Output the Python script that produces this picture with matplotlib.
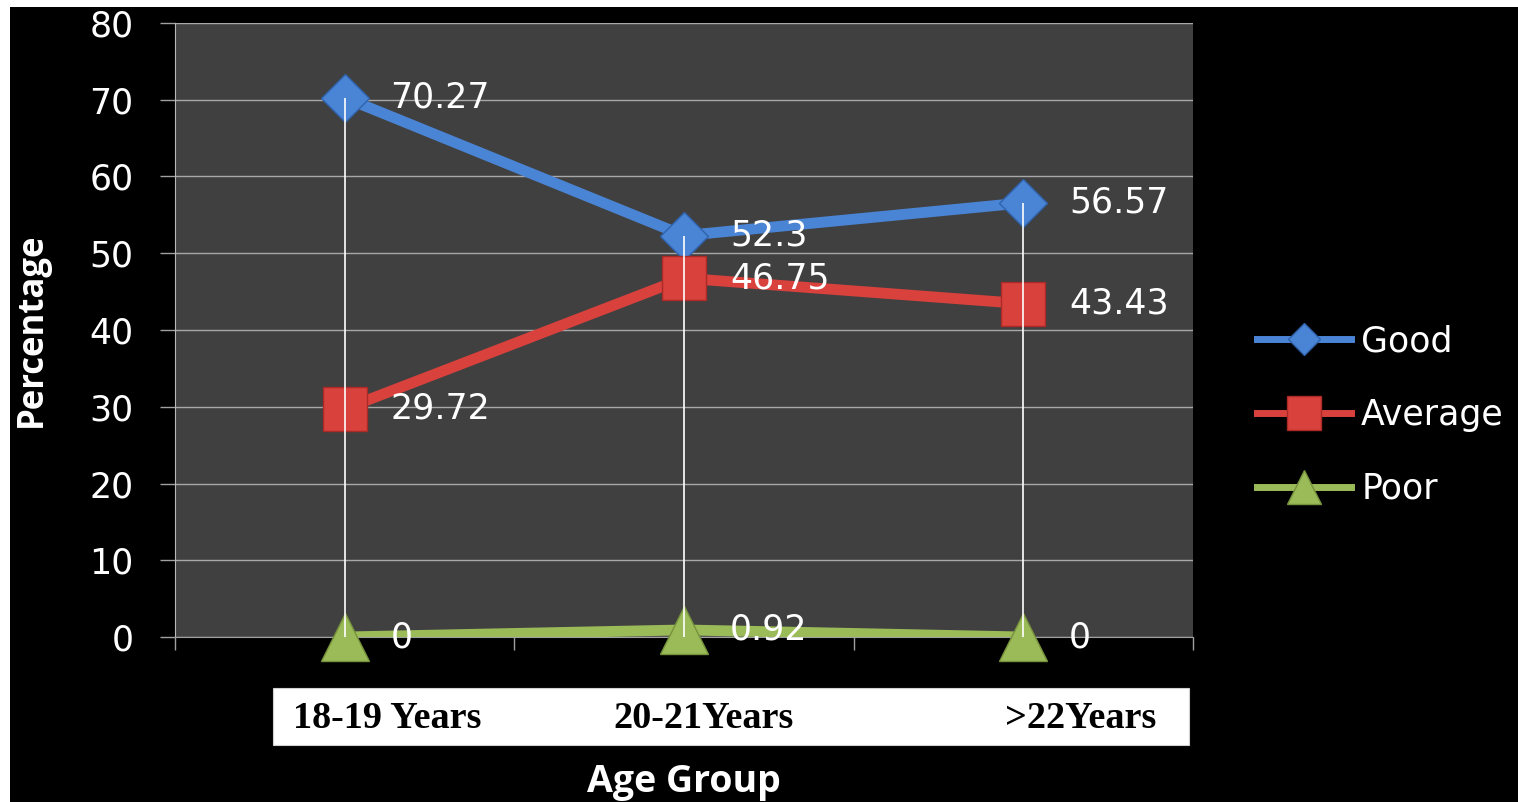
import matplotlib
matplotlib.use("Agg")
import matplotlib.pyplot as plt
from matplotlib.lines import Line2D
from matplotlib.patches import Rectangle

# Data
categories = ["18-19 Years", "20-21Years", ">22Years"]
series_names = ["Good", "Average", "Poor"]
good = [70.27, 52.3, 56.57]
average = [29.72, 46.75, 43.43]
poor = [0, 0.92, 0]
y_ticks = [0, 10, 20, 30, 40, 50, 60, 70, 80]

colors = {"Good": "#4a84d4", "Average": "#d9413d", "Poor": "#9bbb59"}
edges = {"Good": "#2f63ad", "Average": "#a92a27", "Poor": "#76923c"}
markers = {"Good": "D", "Average": "s", "Poor": "^"}
msizes = {"Good": 24, "Average": 31, "Poor": 35}

W, H = 1518, 802
fig = plt.figure(figsize=(W / 100, H / 100), dpi=100, facecolor="white")

# black chart background with a thin white margin on the top and left
fig.patches.append(Rectangle((10 / W, 0), 1 - 10 / W, 1 - 7 / H,
                             transform=fig.transFigure, facecolor="black",
                             edgecolor="none", zorder=-10))

ax = fig.add_axes([175 / W, 1 - 637 / H, (1193 - 175) / W, (637 - 23) / H])
ax.set_zorder(1)
ax.set_facecolor("#404040")
x = list(range(len(categories)))

for name, vals in zip(series_names, [good, average, poor]):
    ax.plot(x, vals, color=colors[name], lw=7.8, solid_capstyle="butt",
            zorder=3, clip_on=True)
    ax.plot(x, vals, linestyle="none", marker=markers[name],
            markersize=msizes[name], markerfacecolor=colors[name],
            markeredgecolor=edges[name], markeredgewidth=1.0,
            zorder=4, clip_on=False)

# drop lines from the highest value in each category to the axis
tops = [max(g, a, p) for g, a, p in zip(good, average, poor)]
ax.vlines(x, 0, tops, colors="white", lw=1.2, zorder=5)

# value labels
for vals in (good, average, poor):
    for xi, v in zip(x, vals):
        ax.annotate(f"{v:g}", (xi, v), xytext=(33, 0), textcoords="offset points",
                    ha="left", va="center", color="white", fontsize=25,
                    family="DejaVu Sans", zorder=6, annotation_clip=False)

ax.set_xlim(-0.5, 2.5)
ax.set_ylim(0, 80)
ax.set_yticks(y_ticks)
ax.set_yticklabels([str(t) for t in y_ticks], color="white", fontsize=25,
                   family="DejaVu Sans")
ax.tick_params(axis="y", length=11, width=1, color="#a0a0a0", pad=19)
ax.set_xticks([])
ax.set_xticks([-0.5, 0.5, 1.5, 2.5], minor=True)
ax.tick_params(axis="x", which="minor", length=9, width=1, color="#a0a0a0")
ax.grid(axis="y", color="#a8a8a8", lw=1.0, zorder=1)
ax.set_axisbelow(True)
for s in ("top", "right"):
    ax.spines[s].set_visible(False)
ax.spines["left"].set_color("#b8b8b8")
ax.spines["bottom"].set_color("#a0a0a0")

ax.set_ylabel("Percentage", color="white", fontsize=25, fontweight="bold",
              family="Open Sans", labelpad=28)

# category label band under the axis
fig.patches.append(Rectangle((273 / W, 1 - 745 / H), (1189 - 273) / W, (745 - 688) / H,
                             transform=fig.transFigure, facecolor="white",
                             edgecolor="#d0d0d0", lw=0.8, zorder=2))
label_x = [293, 613, 1005]
for lx, cat in zip(label_x, categories):
    fig.text(lx / W, 1 - 718 / H, cat, ha="left", va="center", color="black",
             fontsize=27.5, fontweight="bold", family="Liberation Serif", zorder=3)

fig.text(684 / W, 1 - 782 / H, "Age Group", ha="center", va="center",
         color="white", fontsize=27, fontweight="bold", family="Open Sans")

# legend
handles = [
    Line2D([], [], color=colors["Good"], lw=5, marker="D", markersize=16,
           markerfacecolor=colors["Good"], markeredgecolor=edges["Good"]),
    Line2D([], [], color=colors["Average"], lw=5, marker="s", markersize=24,
           markerfacecolor=colors["Average"], markeredgecolor=edges["Average"]),
    Line2D([], [], color=colors["Poor"], lw=5, marker="^", markersize=24,
           markerfacecolor=colors["Poor"], markeredgecolor=edges["Poor"]),
]
leg = fig.legend(handles, series_names, loc="center left",
                 bbox_to_anchor=(1257 / W, 1 - 415 / H), frameon=False,
                 prop={"family": "DejaVu Sans", "size": 25},
                 handlelength=2.7, handletextpad=0.3, labelspacing=1.15,
                 borderpad=0, borderaxespad=0)
for t in leg.get_texts():
    t.set_color("white")

fig.savefig("out.png", dpi=100, facecolor="white")
